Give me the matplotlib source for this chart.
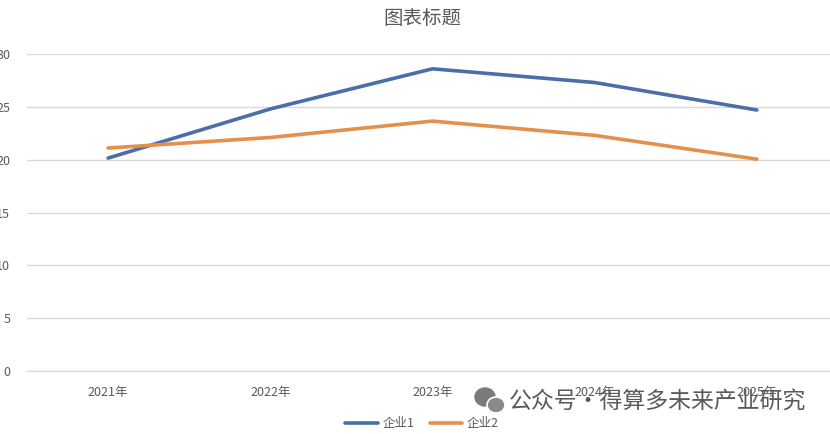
import matplotlib
matplotlib.use("Agg")
import matplotlib.pyplot as plt
from matplotlib.patches import Ellipse

plt.rcParams['font.family'] = ['Noto Sans CJK SC', 'DejaVu Sans']

categories = ['2021年', '2022年', '2023年', '2024年', '2025年']
company1 = [20.15, 24.8, 28.6, 27.3, 24.7]
company2 = [21.1, 22.1, 23.65, 22.3, 20.05]
series_names = ['企业1', '企业2']
yticks = [0, 5, 10, 15, 20, 25, 30]
title = '图表标题'
watermark = '公众号·得算多未来产业研究'

W, H = 830, 434
fig = plt.figure(figsize=(W / 100, H / 100), dpi=100)
ax = fig.add_axes([27 / W, 63 / H, 811 / W, 317 / H])

x = list(range(len(categories)))
l1, = ax.plot(x, company1, color='#4a6ea9', lw=2.6, solid_capstyle='round', label=series_names[0])
l2, = ax.plot(x, company2, color='#e2904a', lw=2.6, solid_capstyle='round', label=series_names[1])

ax.set_xlim(-0.5, 4.5)
ax.set_ylim(0, 30)
ax.set_yticks(yticks)
ax.set_xticks(x)
ax.set_xticklabels(categories)
ax.yaxis.grid(True, color='#d9d9d9', lw=1)
ax.set_axisbelow(True)
for s in ['top', 'right', 'left']:
    ax.spines[s].set_visible(False)
ax.spines['bottom'].set_color('#d9d9d9')
ax.tick_params(axis='both', length=0, labelsize=9, colors='#595959')
ax.tick_params(axis='y', pad=12)
ax.tick_params(axis='x', pad=11)

fig.text(422 / W, 1 - 18 / H, title, ha='center', va='center', fontsize=14, color='#595959')

leg = fig.legend(handles=[l1, l2], loc='center', bbox_to_anchor=(422 / W, 1 - 424 / H),
                 ncol=2, frameon=False, fontsize=9, handlelength=2.6, columnspacing=1.2,
                 handletextpad=0.4)
for t in leg.get_texts():
    t.set_color('#595959')

# watermark
fig.text(509 / W, 1 - 402 / H, watermark, ha='left', va='center', fontsize=16.5, color='#5a5a5a')
fig.patches.append(Ellipse((485 / W, 1 - 397 / H), 20 / W, 18 / H, transform=fig.transFigure,
                           color='#7a7a7a', zorder=5))
fig.patches.append(Ellipse((496 / W, 1 - 405 / H), 18 / W, 16 / H, transform=fig.transFigure,
                           fc='#8a8a8a', ec='white', lw=1.2, zorder=6))

fig.savefig('out.png', dpi=100)
